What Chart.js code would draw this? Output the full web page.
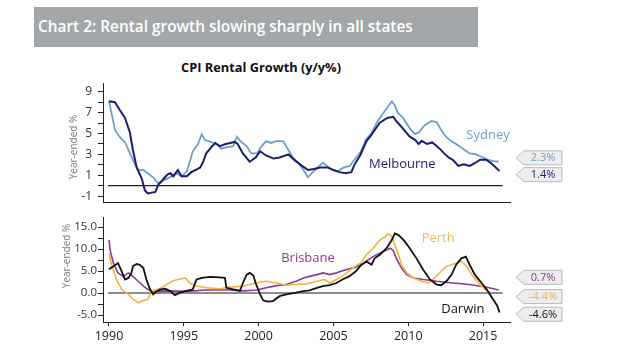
<!DOCTYPE html>
<html>
<head>
<meta charset="utf-8">
<script src="https://cdn.jsdelivr.net/npm/chart.js@4.4.1/dist/chart.umd.min.js"></script>
<style>
  body { margin: 0; background: #fff; width: 620px; height: 349px; position: relative; overflow: hidden; font-family: "Open Sans", sans-serif; }
  #bandeau { position: absolute; left: 34px; top: 7px; width: 440px; height: 40px; padding-left: 4px; background: #a3a7aa; color: #fff; font-weight: 600; font-size: 15.4px; line-height: 40px; }
  #titre { position: absolute; left: 141px; width: 240px; top: 58px; text-align: center; font-weight: 700; font-size: 12.8px; color: #111; }
  #haut { position: absolute; left: 0; top: 70px; }
  #bas { position: absolute; left: 0; top: 210px; }
</style>
</head>
<body>
<div id="bandeau">Chart 2: Rental growth slowing sharply in all states</div>
<div id="titre">CPI Rental Growth (y/y%)</div>
<canvas id="haut" width="620" height="146"></canvas>
<canvas id="bas" width="620" height="139"></canvas>
<script>
// DADOS - painel de cima
const sydneyAnos = [1990.0, 1990.2, 1990.4, 1990.7, 1991.1, 1991.4, 1991.75, 1992.0, 1992.3, 1992.6, 1992.95, 1993.3, 1993.5, 1993.85, 1994.2, 1994.5, 1994.85, 1995.2, 1995.4, 1995.6, 1995.95, 1996.2, 1996.4, 1996.8, 1997.2, 1997.5, 1997.9, 1998.3, 1998.55, 1998.8, 1999.2, 1999.5, 1999.9, 2000.2, 2000.5, 2000.85, 2001.2, 2001.65, 2002.0, 2002.3, 2002.65, 2003.0, 2003.3, 2003.55, 2003.95, 2004.3, 2004.7, 2005.0, 2005.3, 2005.7, 2006.1, 2006.3, 2006.8, 2007.2, 2007.5, 2008.0, 2008.35, 2008.65, 2008.9, 2009.1, 2009.3, 2009.65, 2010.1, 2010.45, 2010.7, 2011.1, 2011.55, 2011.9, 2012.2, 2012.55, 2012.9, 2013.2, 2013.65, 2014.1, 2014.55, 2015.0, 2015.3, 2015.7, 2016.05];
const sydneyValores = [8.1, 6.75, 5.35, 4.7, 4.1, 3.1, 2.0, 1.5, 1.5, 1.2, 0.8, 0.2, 0.4, 0.65, 0.9, 1.2, 0.9, 1.35, 2.3, 3.3, 4.0, 4.95, 4.4, 4.2, 4.0, 3.55, 3.7, 3.8, 4.7, 4.25, 3.8, 3.1, 3.1, 3.8, 4.25, 4.1, 4.3, 4.25, 3.4, 2.7, 2.2, 1.5, 0.8, 1.2, 1.75, 2.2, 1.75, 1.5, 1.4, 1.75, 1.9, 2.3, 3.2, 4.5, 4.95, 6.3, 7.0, 7.6, 8.1, 7.7, 7.0, 6.5, 5.5, 4.95, 5.1, 5.8, 6.2, 6.1, 5.35, 4.65, 4.25, 4.0, 3.55, 3.1, 3.0, 2.7, 2.5, 2.35, 2.3];

const melbourneAnos = [1990.0, 1990.4, 1990.7, 1991.07, 1991.4, 1991.6, 1991.85, 1992.2, 1992.4, 1992.6, 1993.1, 1993.3, 1993.5, 1993.9, 1994.1, 1994.3, 1994.6, 1994.85, 1995.2, 1995.5, 1995.9, 1996.1, 1996.3, 1996.5, 1996.9, 1997.1, 1997.4, 1997.8, 1998.1, 1998.4, 1998.6, 1998.95, 1999.4, 1999.8, 2000.1, 2000.5, 2001.0, 2001.4, 2002.0, 2002.4, 2002.9, 2003.3, 2003.7, 2004.1, 2004.6, 2005.0, 2005.4, 2005.8, 2006.2, 2006.4, 2006.8, 2007.2, 2007.5, 2008.1, 2008.6, 2009.0, 2009.2, 2009.45, 2009.8, 2010.1, 2010.45, 2010.7, 2010.9, 2011.25, 2011.6, 2011.9, 2012.1, 2012.4, 2012.7, 2013.0, 2013.35, 2013.7, 2014.1, 2014.5, 2014.8, 2015.2, 2015.5, 2015.85, 2016.1];
const melbourneValores = [8.1, 8.0, 7.3, 6.5, 5.1, 3.4, 1.75, 0.64, -0.45, -0.75, -0.6, 0.1, 0.4, 1.06, 1.2, 0.9, 1.5, 0.9, 0.9, 1.3, 1.6, 1.75, 2.3, 3.1, 3.8, 4.1, 3.8, 4.0, 4.1, 4.2, 4.0, 3.1, 2.3, 2.7, 3.3, 2.9, 2.6, 2.7, 3.0, 2.45, 1.9, 1.5, 1.6, 1.75, 1.75, 1.5, 1.3, 1.2, 1.3, 2.0, 2.95, 4.25, 4.8, 6.05, 6.5, 6.6, 6.2, 5.8, 5.2, 4.7, 4.4, 4.0, 4.3, 4.0, 4.15, 3.8, 3.55, 3.1, 2.7, 2.45, 1.9, 2.05, 1.9, 2.2, 2.5, 2.5, 2.2, 1.75, 1.4];

// DADOS - painel de baixo
const brisbaneAnos = [1990.0, 1990.1, 1990.3, 1990.6, 1990.95, 1991.3, 1991.6, 1991.95, 1992.3, 1992.6, 1992.95, 1993.9, 1995.2, 1996.5, 1998.1, 1999.0, 1999.9, 2000.5, 2001.2, 2001.85, 2002.5, 2003.0, 2003.4, 2003.9, 2004.3, 2004.75, 2005.2, 2005.6, 2006.0, 2006.5, 2007.0, 2007.65, 2008.1, 2008.55, 2008.8, 2009.0, 2009.2, 2009.55, 2009.9, 2010.35, 2011.0, 2011.9, 2013.0, 2014.1, 2015.25, 2016.05];
const brisbaneValores = [12.1, 9.4, 6.8, 4.6, 3.8, 4.6, 3.8, 2.7, 1.6, 0.8, 0.4, 0.5, 0.4, 0.7, 0.7, 0.5, 0.7, 1.2, 1.7, 1.95, 2.7, 3.45, 3.8, 4.2, 4.6, 4.2, 4.6, 5.1, 5.5, 5.9, 6.8, 8.3, 9.05, 9.8, 10.2, 9.7, 7.9, 5.7, 4.2, 3.45, 3.1, 2.7, 2.3, 1.95, 1.35, 0.7];

const perthAnos = [1990.0, 1990.2, 1990.5, 1990.85, 1991.3, 1991.6, 1991.95, 1992.3, 1992.6, 1992.85, 1993.2, 1993.5, 1993.85, 1994.2, 1994.6, 1995.1, 1995.4, 1995.8, 1996.5, 1997.4, 1998.1, 1999.0, 1999.8, 2000.5, 2001.2, 2001.85, 2002.5, 2003.2, 2003.9, 2004.4, 2004.75, 2005.2, 2005.6, 2006.0, 2006.5, 2006.8, 2007.2, 2007.65, 2008.1, 2008.45, 2008.65, 2008.9, 2009.1, 2009.35, 2009.55, 2009.9, 2010.35, 2010.9, 2011.35, 2011.65, 2012.1, 2012.55, 2012.9, 2013.2, 2013.55, 2013.9, 2014.25, 2014.6, 2014.9, 2015.25, 2015.6, 2015.95, 2016.1];
const perthValores = [9.0, 6.1, 3.1, 0.8, -0.3, -1.4, -2.2, -1.7, -1.4, 0.45, 0.8, 1.2, 1.95, 2.7, 3.1, 3.45, 2.3, 1.6, 1.2, 1.0, 1.35, 1.6, 2.3, 2.7, 2.3, 1.8, 1.95, 2.1, 2.7, 3.1, 2.3, 3.1, 3.8, 4.95, 6.2, 6.8, 8.7, 10.2, 12.05, 12.8, 13.55, 12.8, 10.95, 8.7, 6.45, 4.6, 3.45, 2.7, 2.3, 3.1, 4.6, 6.1, 6.45, 6.8, 7.2, 6.1, 4.2, 2.7, 1.6, 0.45, -1.05, -2.9, -4.2];

const darwinAnos = [1990.0, 1990.3, 1990.6, 1990.85, 1991.07, 1991.3, 1991.5, 1991.6, 1991.85, 1992.05, 1992.3, 1992.5, 1992.75, 1992.95, 1993.2, 1993.4, 1993.75, 1994.1, 1994.4, 1994.75, 1995.1, 1995.4, 1995.6, 1995.85, 1996.2, 1996.75, 1997.4, 1997.75, 1997.85, 1998.3, 1998.75, 1998.95, 1999.2, 1999.4, 1999.65, 1999.8, 2000.1, 2000.3, 2000.6, 2000.95, 2001.4, 2001.85, 2002.5, 2003.0, 2003.4, 2003.9, 2004.3, 2004.75, 2005.2, 2005.6, 2006.05, 2006.5, 2006.8, 2007.2, 2007.55, 2007.75, 2008.1, 2008.55, 2008.9, 2009.1, 2009.35, 2009.7, 2010.1, 2010.55, 2011.0, 2011.45, 2011.9, 2012.2, 2012.55, 2012.9, 2013.2, 2013.55, 2013.85, 2014.1, 2014.45, 2014.9, 2015.25, 2015.6, 2015.95, 2016.1];
const darwinValores = [5.4, 6.1, 6.8, 4.95, 3.1, 3.45, 4.6, 6.1, 6.6, 6.45, 5.7, 3.1, 0.8, -0.3, 0.45, 0.8, 1.0, 0.45, -0.45, 0.1, 0.45, 0.7, 0.85, 3.1, 3.45, 3.7, 3.6, 3.45, 1.2, 0.85, 0.5, 2.3, 4.2, 4.6, 4.0, 2.3, -0.3, -1.65, -1.95, -1.8, -0.7, -0.3, 0.1, 0.45, 0.6, 1.2, 1.6, 1.8, 2.3, 3.1, 3.8, 4.95, 6.2, 7.2, 6.45, 7.9, 8.7, 10.2, 12.05, 13.55, 13.2, 12.05, 10.2, 7.9, 5.3, 3.1, 1.95, 1.8, 2.7, 4.2, 6.45, 7.9, 8.3, 6.45, 4.2, 2.3, 0.8, -1.05, -2.9, -4.4];

// ROTULOS
const anosEixo = [1990, 1995, 2000, 2005, 2010, 2015];
const ticksCima = [-1, 0, 1, 2, 3, 4, 5, 6, 7, 8, 9];
const ticksBaixo = [-5, -2.5, 0, 2.5, 5, 7.5, 10, 12.5, 15];
const ultimosCima = ["2.3%", "1.4%"];
const ultimosBaixo = ["0.7%", "-4.4%", "-4.6%"];

const cores = {
  sydney: "#6d9fcd",
  melbourne: "#1f1c6c",
  brisbane: "#8b3b95",
  perth: "#f1b445",
  darwin: "#111111",
};

function pontos(anos, valores) {
  return anos.map((x, i) => ({ x, y: valores[i] }));
}

function serie(nome, anos, valores, cor, largura) {
  return {
    label: nome,
    data: pontos(anos, valores),
    borderColor: cor,
    borderWidth: largura,
    pointRadius: 0,
    tension: 0,
    fill: false,
  };
}

// plugin: linha do zero, nomes das séries, caixinhas com o último valor, título do eixo
const enfeites = {
  id: "enfeites",
  beforeDatasetsDraw(chart, args, o) {
    const { ctx, scales } = chart;
    const y0 = scales.y.getPixelForValue(0);
    ctx.save();
    ctx.strokeStyle = o.zeroCor;
    ctx.lineWidth = o.zeroLargura;
    ctx.beginPath();
    ctx.moveTo(scales.x.getPixelForValue(1989.93), y0);
    ctx.lineTo(scales.x.getPixelForValue(2016.3), y0);
    ctx.stroke();
    ctx.restore();
  },
  afterDatasetsDraw(chart, args, o) {
    const { ctx, scales, chartArea } = chart;
    ctx.save();
    // nomes
    ctx.textAlign = "center";
    ctx.textBaseline = "middle";
    o.nomes.forEach((n) => {
      ctx.font = "13px 'Open Sans'";
      ctx.fillStyle = n.cor;
      ctx.fillText(n.texto, scales.x.getPixelForValue(n.x), scales.y.getPixelForValue(n.y));
    });
    // caixinhas
    o.caixas.forEach((c) => {
      const cy = scales.y.getPixelForValue(c.y);
      const ponta = chartArea.right + 6;
      const esq = ponta + 8;
      const dir = esq + 38;
      ctx.beginPath();
      ctx.moveTo(ponta, cy);
      ctx.lineTo(esq, cy - 7);
      ctx.lineTo(dir, cy - 7);
      ctx.lineTo(dir, cy + 7);
      ctx.lineTo(esq, cy + 7);
      ctx.closePath();
      ctx.fillStyle = "#ededed";
      ctx.fill();
      ctx.strokeStyle = "#b8b8b8";
      ctx.lineWidth = 1;
      ctx.stroke();
      ctx.font = "11px 'Open Sans'";
      ctx.fillStyle = c.cor;
      ctx.fillText(c.texto, esq + 19, cy + 0.5);
    });
    // título do eixo y
    ctx.translate(o.tituloX, (chartArea.top + chartArea.bottom) / 2 + o.tituloDy);
    ctx.rotate(-Math.PI / 2);
    ctx.font = "10px 'Open Sans'";
    ctx.fillStyle = "#7a7a7a";
    ctx.fillText("Year-ended %", 0, 0);
    ctx.restore();
  },
};

function eixoX(mostrar) {
  return {
    type: "linear",
    min: 1989.6,
    max: 2016.8,
    afterBuildTicks: (s) => { s.ticks = anosEixo.map((v) => ({ value: v })); },
    afterFit: (s) => { s.height = mostrar ? 27 : 3.3; },
    grid: { display: mostrar, drawOnChartArea: false, tickLength: 4, color: "#222" },
    border: { display: true, color: "#222", width: 1 },
    ticks: {
      display: mostrar,
      autoSkip: false,
      maxRotation: 0,
      padding: 3,
      color: "#222",
      font: { family: "Open Sans", size: 12.5 },
      callback: (v) => String(v),
    },
  };
}

function eixoY(min, max, lista, rotulo, pad, tam) {
  return {
    min,
    max,
    afterBuildTicks: (s) => { s.ticks = lista.map((v) => ({ value: v })); },
    afterFit: (s) => { s.width = 103; },
    grid: { drawOnChartArea: false, tickLength: 5, color: "#222" },
    border: { display: true, color: "#222", width: 1 },
    ticks: {
      autoSkip: false,
      padding: pad,
      color: "#333",
      font: { family: "Open Sans", size: tam },
      callback: rotulo,
    },
  };
}

// GRÁFICO DE CIMA
new Chart(document.querySelector("#haut"), {
  type: "line",
  data: {
    datasets: [
      serie("Melbourne", melbourneAnos, melbourneValores, cores.melbourne, 2),
      serie("Sydney", sydneyAnos, sydneyValores, cores.sydney, 1.8),
    ],
  },
  options: {
    responsive: false,
    animation: false,
    layout: { padding: { left: 0, right: 110, top: 5, bottom: 0 } },
    plugins: {
      legend: { display: false },
      tooltip: { enabled: false },
      enfeites: {
        zeroCor: "#222",
        zeroLargura: 1.2,
        tituloX: 74,
        tituloDy: 4,
        nomes: [
          { texto: "Sydney", x: 2015.33, y: 4.8, cor: cores.sydney },
          { texto: "Melbourne", x: 2009.6, y: 2.06, cor: cores.melbourne },
        ],
        caixas: [
          { texto: ultimosCima[0], y: 2.67, cor: cores.sydney },
          { texto: ultimosCima[1], y: 1.06, cor: cores.melbourne },
        ],
      },
    },
    scales: {
      x: eixoX(false),
      y: eixoY(-1.64, 9.83, ticksCima, (v) => (v % 2 ? String(v) : ""), 6, 12),
    },
  },
  plugins: [enfeites],
});

// GRÁFICO DE BAIXO
new Chart(document.querySelector("#bas"), {
  type: "line",
  data: {
    datasets: [
      serie("Darwin", darwinAnos, darwinValores, cores.darwin, 1.8),
      serie("Perth", perthAnos, perthValores, cores.perth, 1.6),
      serie("Brisbane", brisbaneAnos, brisbaneValores, cores.brisbane, 1.6),
    ],
  },
  options: {
    responsive: false,
    animation: false,
    layout: { padding: { left: 0, right: 110, top: 6.5, bottom: 0 } },
    plugins: {
      legend: { display: false },
      tooltip: { enabled: false },
      enfeites: {
        zeroCor: "#8c8c8c",
        zeroLargura: 2,
        tituloX: 67,
        tituloDy: -14,
        nomes: [
          { texto: "Brisbane", x: 2003.3, y: 7.9, cor: cores.brisbane },
          { texto: "Perth", x: 2012.0, y: 12.4, cor: "#f2bc5a" },
          { texto: "Darwin", x: 2013.65, y: -3.6, cor: cores.darwin },
        ],
        caixas: [
          { texto: ultimosBaixo[0], y: 3.6, cor: cores.brisbane },
          { texto: ultimosBaixo[1], y: -0.8, cor: cores.perth },
          { texto: ultimosBaixo[2], y: -4.8, cor: cores.darwin },
        ],
      },
    },
    scales: {
      x: eixoX(true),
      y: eixoY(-6.57, 17.1, ticksBaixo, (v) => (v % 5 === 0 ? v.toFixed(1) : ""), 1, 11.5),
    },
  },
  plugins: [enfeites],
});
</script>
</body>
</html>
